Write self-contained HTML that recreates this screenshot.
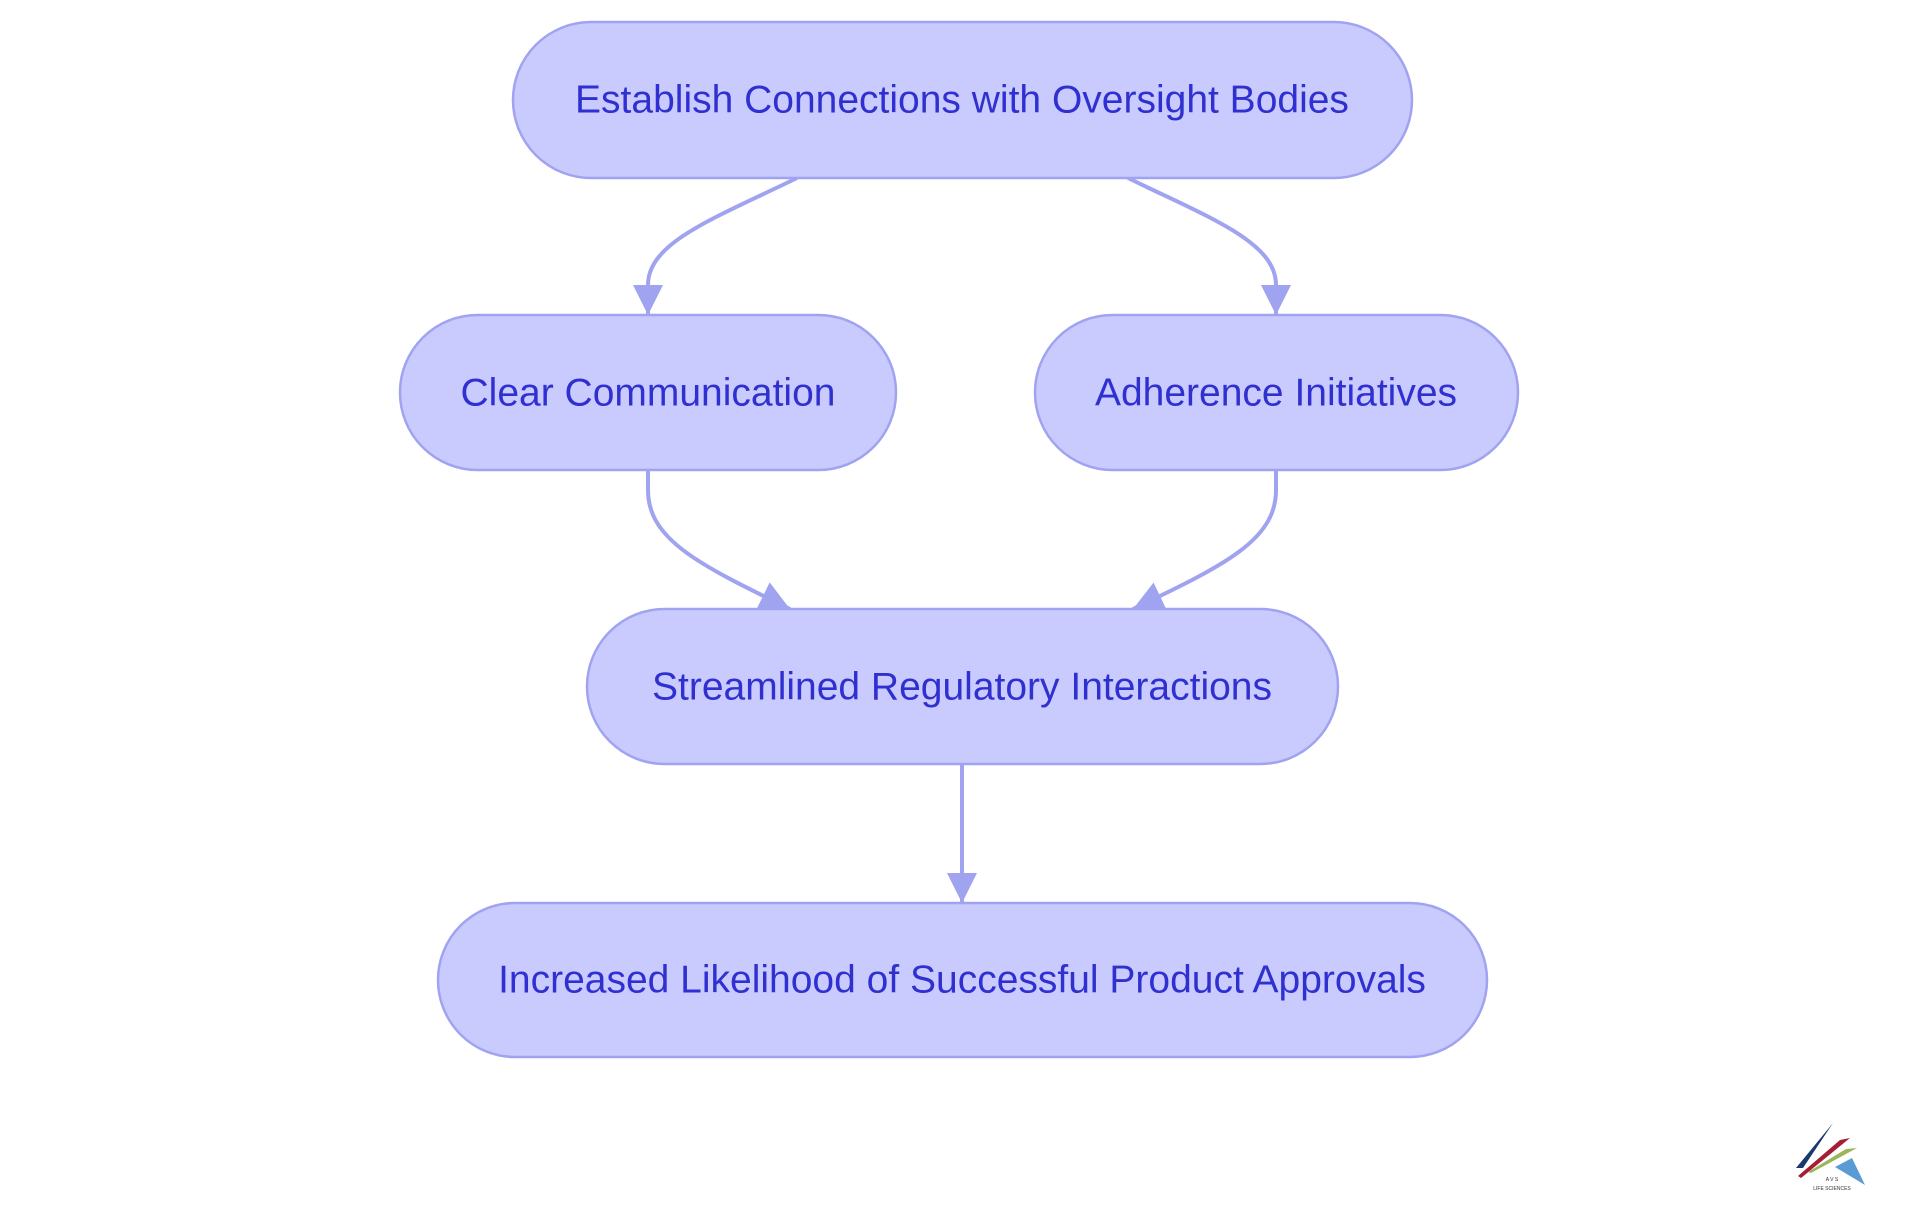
<!DOCTYPE html>
<html><head><meta charset="utf-8"><style>
body{margin:0;background:#fff;}
svg{display:block}
text{font-family:"Liberation Sans",sans-serif;fill:#3030d0;font-size:39px;text-anchor:middle;dominant-baseline:central}
</style></head><body>
<svg width="1920" height="1215" viewBox="0 0 1920 1215" xmlns="http://www.w3.org/2000/svg">
<defs><marker id="a" viewBox="0 0 10 10" refX="10" refY="5" markerWidth="30" markerHeight="30" markerUnits="userSpaceOnUse" orient="auto"><path d="M0,0L10,5L0,10z" fill="#a0a3f0"/></marker></defs>
<g fill="none" stroke="#a0a3f0" stroke-width="4">
<path d="M797,178 C715,218 648,242 648,285 L648,315" marker-end="url(#a)"/>
<path d="M1128,178 C1210,218 1276,242 1276,285 L1276,315" marker-end="url(#a)"/>
<path d="M648,470 L648,490 C648,540 700,565 790,609" marker-end="url(#a)"/>
<path d="M1276,470 L1276,490 C1276,540 1225,565 1133,609" marker-end="url(#a)"/>
<path d="M962,764 L962,903" marker-end="url(#a)"/>
</g>
<g fill="#c9cbff" stroke="#a0a3f0" stroke-width="2.5">
<rect x="513" y="22" width="899" height="156" rx="78"/>
<rect x="400" y="315" width="496" height="155" rx="77.5"/>
<rect x="1035" y="315" width="483" height="155" rx="77.5"/>
<rect x="587" y="609" width="751" height="155" rx="77.5"/>
<rect x="438" y="903" width="1049" height="154" rx="77"/>
</g>
<text x="962" y="100">Establish Connections with Oversight Bodies</text>
<text x="648" y="393">Clear Communication</text>
<text x="1276" y="393">Adherence Initiatives</text>
<text x="962" y="687">Streamlined Regulatory Interactions</text>
<text x="962" y="980">Increased Likelihood of Successful Product Approvals</text>
<g>
<polygon points="1796,1168 1833,1123 1803,1168" fill="#1a3a6e"/>
<polygon points="1801,1178 1850,1138 1840,1140 1798,1176" fill="#a51e36"/>
<polygon points="1811,1173 1857,1148 1846,1149 1808,1172" fill="#9cb55a"/>
<polygon points="1835,1167 1852,1158 1865,1185" fill="#5b9bd5"/>
<text x="1832" y="1180" style="font-size:5px;fill:#333">A V S</text>
<text x="1832" y="1189" style="font-size:5px;fill:#333">LIFE SCIENCES</text>
</g>
</svg>
</body></html>
